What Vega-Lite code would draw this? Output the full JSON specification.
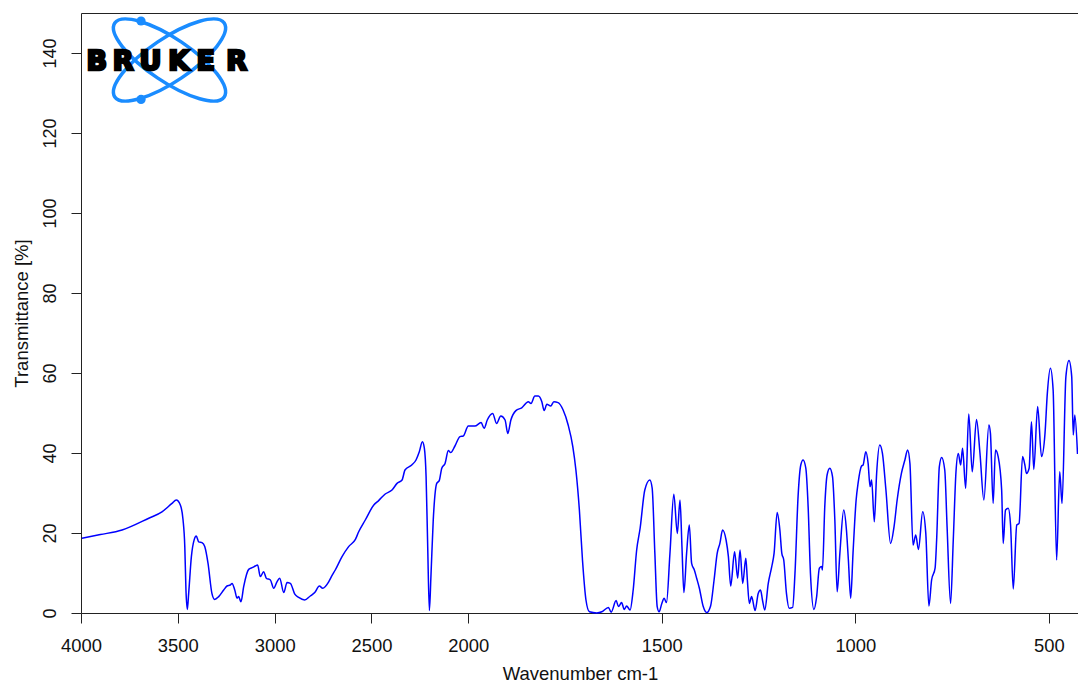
{
  "$schema": "https://vega.github.io/schema/vega-lite/v6.json",
  "width": 1000,
  "height": 600,
  "autosize": {"type": "none"},
  "padding": {"left": 81, "top": 13, "right": 0, "bottom": 71},
  "background": "white",
  "config": {
    "view": {"stroke": "#222", "strokeWidth": 1},
    "axis": {"grid": false, "domain": false}
  },
  "datasets": {
    "spectrum": [
      {"w":3995,"t":18.7},{"w":3900,"t":19.6},{"w":3788,"t":20.75},{"w":3650,"t":23.7},{"w":3582,"t":25.3},{"w":3530,"t":27.4},{"w":3508,"t":28.25},{"w":3487,"t":27},{"w":3473,"t":23.25},{"w":3464,"t":16.6},{"w":3458,"t":5.75},{"w":3451,"t":0.9},{"w":3444,"t":4.9},{"w":3430,"t":14.1},{"w":3415,"t":18.4},{"w":3405,"t":19.25},{"w":3392,"t":17.8},{"w":3375,"t":17.6},{"w":3361,"t":16.6},{"w":3344,"t":12.4},{"w":3324,"t":4.9},{"w":3310,"t":3.4},{"w":3289,"t":4.1},{"w":3263,"t":5.75},{"w":3246,"t":6.75},{"w":3229,"t":7},{"w":3220,"t":7.4},{"w":3206,"t":5.75},{"w":3194,"t":3.7},{"w":3186,"t":4.1},{"w":3174,"t":2.8},{"w":3160,"t":6.6},{"w":3134,"t":10.9},{"w":3113,"t":11.4},{"w":3100,"t":11.75},{"w":3088,"t":12},{"w":3074,"t":9.1},{"w":3057,"t":10.3},{"w":3043,"t":8.7},{"w":3022,"t":8.25},{"w":3005,"t":6.2},{"w":2988,"t":7.8},{"w":2974,"t":8.7},{"w":2953,"t":5.1},{"w":2936,"t":7.6},{"w":2919,"t":7.4},{"w":2896,"t":4.7},{"w":2876,"t":3.9},{"w":2845,"t":3.25},{"w":2816,"t":4.25},{"w":2793,"t":5.1},{"w":2769,"t":6.75},{"w":2752,"t":6.2},{"w":2721,"t":7.8},{"w":2707,"t":9.1},{"w":2687,"t":10.75},{"w":2652,"t":14.1},{"w":2618,"t":16.6},{"w":2583,"t":18.4},{"w":2566,"t":20.3},{"w":2532,"t":23.25},{"w":2488,"t":27},{"w":2463,"t":28.1},{"w":2429,"t":29.75},{"w":2394,"t":30.75},{"w":2368,"t":32.4},{"w":2342,"t":33.25},{"w":2327,"t":35.75},{"w":2292,"t":37},{"w":2270,"t":38.25},{"w":2253,"t":40.3},{"w":2237,"t":42.8},{"w":2227,"t":41.2},{"w":2218,"t":34.1},{"w":2210,"t":17.4},{"w":2201,"t":0.6},{"w":2193,"t":9.1},{"w":2181,"t":23.25},{"w":2163,"t":32.4},{"w":2150,"t":33.1},{"w":2137,"t":36.2},{"w":2120,"t":37.4},{"w":2103,"t":40.6},{"w":2091,"t":40.1},{"w":2069,"t":41.75},{"w":2043,"t":44.1},{"w":2026,"t":44.25},{"w":2000,"t":46.75},{"w":1983,"t":46.75},{"w":1967,"t":47.6},{"w":1959,"t":46.2},{"w":1951,"t":48.25},{"w":1937,"t":49.9},{"w":1927,"t":47.4},{"w":1916,"t":49.25},{"w":1905,"t":48.25},{"w":1898,"t":44.9},{"w":1890,"t":48.25},{"w":1877,"t":50.6},{"w":1862,"t":51.3},{"w":1845,"t":52.8},{"w":1838,"t":52.4},{"w":1828,"t":54.25},{"w":1819,"t":54.25},{"w":1810,"t":52.8},{"w":1804,"t":50.6},{"w":1797,"t":52.2},{"w":1787,"t":51.75},{"w":1779,"t":52.8},{"w":1768,"t":52.6},{"w":1755,"t":50.75},{"w":1742,"t":47},{"w":1730,"t":41.6},{"w":1722,"t":35.75},{"w":1713,"t":25.75},{"w":1705,"t":13.25},{"w":1696,"t":3.25},{"w":1687,"t":0.3},{"w":1668,"t":0},{"w":1655,"t":0.3},{"w":1638,"t":1.4},{"w":1631,"t":0.2},{"w":1618,"t":3.1},{"w":1612,"t":1.6},{"w":1604,"t":2.6},{"w":1597,"t":0.9},{"w":1591,"t":1.75},{"w":1582,"t":0.75},{"w":1574,"t":5.75},{"w":1565,"t":15.75},{"w":1556,"t":21.25},{"w":1544,"t":30.75},{"w":1531,"t":33.25},{"w":1525,"t":31.25},{"w":1518,"t":14.9},{"w":1512,"t":1.6},{"w":1507,"t":0.3},{"w":1500,"t":2.4},{"w":1494,"t":3.7},{"w":1488,"t":2.6},{"w":1479,"t":14.9},{"w":1469,"t":29.7},{"w":1460,"t":19.9},{"w":1453,"t":28.25},{"w":1448,"t":16.6},{"w":1443,"t":5.1},{"w":1436,"t":14.9},{"w":1429,"t":22},{"w":1423,"t":12.4},{"w":1416,"t":10.75},{"w":1410,"t":8.7},{"w":1403,"t":6.2},{"w":1393,"t":1.6},{"w":1384,"t":0.1},{"w":1374,"t":1.75},{"w":1365,"t":8.25},{"w":1357,"t":14.9},{"w":1350,"t":17.4},{"w":1343,"t":20.75},{"w":1334,"t":18.25},{"w":1328,"t":14.1},{"w":1322,"t":6.75},{"w":1312,"t":15.3},{"w":1304,"t":8.7},{"w":1298,"t":15.75},{"w":1291,"t":7.4},{"w":1283,"t":13.7},{"w":1279,"t":8.25},{"w":1274,"t":2.4},{"w":1268,"t":4.1},{"w":1259,"t":0.6},{"w":1251,"t":4.9},{"w":1245,"t":5.75},{"w":1240,"t":3.25},{"w":1234,"t":0.75},{"w":1225,"t":7.4},{"w":1216,"t":11.6},{"w":1210,"t":14.9},{"w":1202,"t":25.1},{"w":1195,"t":20.75},{"w":1190,"t":14.9},{"w":1185,"t":13.25},{"w":1178,"t":4.9},{"w":1171,"t":1.2},{"w":1162,"t":1.4},{"w":1156,"t":9.9},{"w":1148,"t":29.1},{"w":1141,"t":37},{"w":1135,"t":38.25},{"w":1128,"t":36.2},{"w":1122,"t":26.6},{"w":1116,"t":9.9},{"w":1107,"t":0.9},{"w":1100,"t":4.1},{"w":1093,"t":11.2},{"w":1087,"t":11.6},{"w":1085,"t":10.75},{"w":1079,"t":26.6},{"w":1073,"t":34.5},{"w":1066,"t":36.2},{"w":1059,"t":34.1},{"w":1053,"t":23.25},{"w":1047,"t":5.3},{"w":1040,"t":14.9},{"w":1030,"t":25.75},{"w":1023,"t":20.75},{"w":1018,"t":13.25},{"w":1012,"t":3.7},{"w":1006,"t":15},{"w":998,"t":28.25},{"w":993,"t":32.4},{"w":984,"t":36.75},{"w":980,"t":37},{"w":973,"t":40.3},{"w":967,"t":37.4},{"w":962,"t":31.6},{"w":958,"t":33.25},{"w":951,"t":22.8},{"w":945,"t":34.9},{"w":937,"t":42},{"w":930,"t":39.9},{"w":921,"t":30.75},{"w":909,"t":17.4},{"w":900,"t":21.6},{"w":892,"t":28.25},{"w":881,"t":34.9},{"w":872,"t":38.25},{"w":865,"t":40.75},{"w":859,"t":37.4},{"w":851,"t":17},{"w":844,"t":19.5},{"w":837,"t":15.9},{"w":826,"t":25.3},{"w":818,"t":19.9},{"w":810,"t":1.75},{"w":803,"t":8.25},{"w":794,"t":11.2},{"w":790,"t":18.25},{"w":783,"t":36.6},{"w":777,"t":38.9},{"w":769,"t":35.75},{"w":763,"t":21.6},{"w":754,"t":2.4},{"w":747,"t":18.25},{"w":740,"t":35.3},{"w":734,"t":39.9},{"w":728,"t":37},{"w":723,"t":41.2},{"w":715,"t":31.2},{"w":707,"t":49.75},{"w":698,"t":35.3},{"w":687,"t":48.4},{"w":678,"t":39.9},{"w":668,"t":28.25},{"w":655,"t":47},{"w":651,"t":44.9},{"w":644,"t":27.4},{"w":638,"t":40.75},{"w":631,"t":39.1},{"w":622,"t":30.75},{"w":618,"t":17.4},{"w":612,"t":25.75},{"w":605,"t":26.2},{"w":599,"t":22},{"w":592,"t":6},{"w":583,"t":22},{"w":577,"t":22.4},{"w":568,"t":39.1},{"w":562,"t":37},{"w":558,"t":34.9},{"w":551,"t":36.2},{"w":545,"t":47.8},{"w":539,"t":35.9},{"w":529,"t":51.6},{"w":519,"t":39.1},{"w":510,"t":44.9},{"w":504,"t":54.9},{"w":496,"t":61.2},{"w":489,"t":55.75},{"w":480,"t":13.25},{"w":472,"t":35.3},{"w":466,"t":27.4},{"w":456,"t":59.1},{"w":448,"t":63.1},{"w":441,"t":59.1},{"w":437,"t":44.5},{"w":433,"t":49.5},{"w":426,"t":39.75}
    ],
    "logo": [{"w": 3543, "t": 138.25}],
    "dots": [{"w": 3690, "t": 148}, {"w": 3690, "t": 128.4}],
    "letters": [
      {"w": 3919, "t": 135.75, "ch": "B"},
      {"w": 3782, "t": 135.75, "ch": "R"},
      {"w": 3641, "t": 135.75, "ch": "U"},
      {"w": 3495, "t": 135.75, "ch": "K"},
      {"w": 3356, "t": 135.75, "ch": "E"},
      {"w": 3196, "t": 135.75, "ch": "R"}
    ]
  },
  "encoding": {
    "x": {
      "field": "w",
      "type": "quantitative",
      "scale": {"type": "linear", "domain": [4000, 2000, 417], "range": [0, 387.3, 1000], "nice": false, "zero": false},
      "axis": {
        "values": [4000, 3500, 3000, 2500, 2000, 1500, 1000, 500],
        "format": "d",
        "title": "Wavenumber cm-1",
        "domain": false,
        "grid": false,
        "ticks": true,
        "tickSize": 10,
        "tickColor": "#222",
        "tickWidth": 1,
        "labelFont": "Liberation Sans",
        "labelFontSize": 18.4,
        "labelColor": "#111",
        "labelBaseline": "alphabetic",
        "labelAlign": "center",
        "labelPadding": 28,
        "labelFlush": false,
        "labelOverlap": false,
        "titleFont": "Liberation Sans",
        "titleFontSize": 18.5,
        "titleFontWeight": "normal",
        "titleColor": "#111",
        "titleBaseline": "alphabetic",
        "titleAlign": "center",
        "titleX": 499,
        "titleY": 66.5
      }
    },
    "y": {
      "field": "t",
      "type": "quantitative",
      "scale": {"domain": [0, 150], "nice": false, "zero": false},
      "axis": {
        "values": [0, 20, 40, 60, 80, 100, 120, 140],
        "title": "Transmittance [%]",
        "domain": false,
        "grid": false,
        "ticks": true,
        "tickSize": 10,
        "tickColor": "#222",
        "tickWidth": 1,
        "labelAngle": -90,
        "labelAlign": "center",
        "labelBaseline": "alphabetic",
        "labelPadding": 15.5,
        "labelFont": "Liberation Sans",
        "labelFontSize": 18,
        "labelColor": "#111",
        "labelFlush": false,
        "labelOverlap": false,
        "titleFont": "Liberation Sans",
        "titleFontSize": 18.5,
        "titleFontWeight": "normal",
        "titleColor": "#111",
        "titleAngle": 270,
        "titleAlign": "center",
        "titleBaseline": "alphabetic",
        "titleX": -53.5,
        "titleY": 300
      }
    }
  },
  "layer": [
    {
      "data": {"name": "spectrum"},
      "mark": {"type": "line", "color": "#0000ff", "strokeWidth": 1.5, "interpolate": "monotone"}
    },
    {
      "data": {"name": "logo"},
      "mark": {"type": "point", "shape": "M -1 0 A 1 0.327 0 1 1 1 0 A 1 0.327 0 1 1 -1 0 Z", "filled": false, "stroke": "#1a8cff", "strokeWidth": 3.5, "size": 17424, "angle": 34, "opacity": 1}
    },
    {
      "data": {"name": "logo"},
      "mark": {"type": "point", "shape": "M -1 0 A 1 0.327 0 1 1 1 0 A 1 0.327 0 1 1 -1 0 Z", "filled": false, "stroke": "#1a8cff", "strokeWidth": 3.5, "size": 17424, "angle": 326, "opacity": 1}
    },
    {
      "data": {"name": "dots"},
      "mark": {"type": "point", "shape": "circle", "filled": true, "color": "#1a8cff", "size": 85, "opacity": 1}
    },
    {
      "data": {"name": "letters"},
      "mark": {"type": "text", "font": "DejaVu Sans", "fontWeight": "bold", "fontSize": 27, "baseline": "alphabetic", "align": "center", "fill": "#000", "stroke": "#000", "strokeWidth": 2.6},
      "encoding": {"text": {"field": "ch"}}
    }
  ]
}
